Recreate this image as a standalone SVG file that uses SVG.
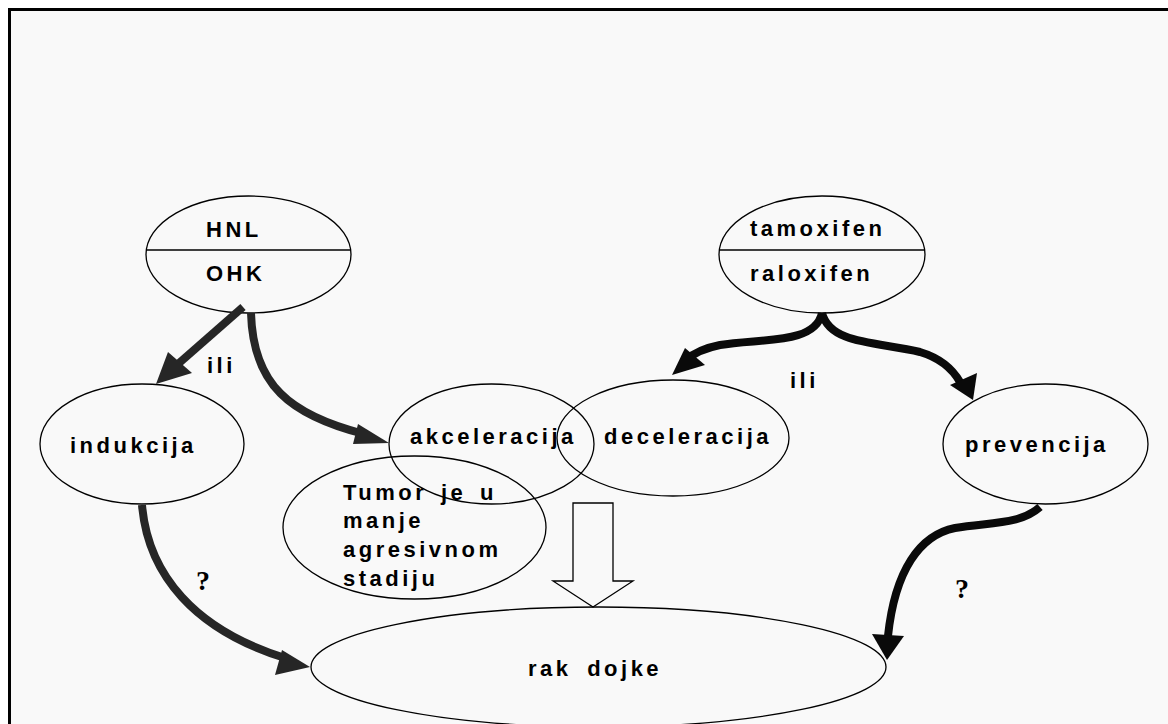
<svg xmlns="http://www.w3.org/2000/svg" width="1168" height="724" viewBox="0 0 1168 724">
<style>
.n{fill:none;stroke:#000;stroke-width:1.3}
.t{font-family:"Liberation Sans",Arial,sans-serif;font-weight:bold;font-size:22px;letter-spacing:3.5px;word-spacing:4px;fill:#000}
.q{font-family:"Liberation Serif","Times New Roman",serif;font-weight:bold;font-size:28px;fill:#000}
.c1{fill:none;stroke:#262626;stroke-width:8}
.c2{fill:none;stroke:#0a0a0a;stroke-width:8}
.h1{fill:#262626}
.h2{fill:#0a0a0a}
</style>
<rect x="0" y="0" width="1168" height="724" fill="#fff"/>
<rect x="9.5" y="9.5" width="1200" height="760" fill="#f9f9f9" stroke="#000" stroke-width="3"/>

<g id="hnl">
<ellipse class="n" cx="248.5" cy="254.5" rx="102.5" ry="58.5"/>
<line class="n" x1="146" y1="250" x2="351" y2="250"/>
<text class="t" x="206" y="237">HNL</text>
<text class="t" x="206" y="281">OHK</text>
</g>
<g id="tamoxifen">
<ellipse class="n" cx="822" cy="254.5" rx="103" ry="58.5"/>
<line class="n" x1="719" y1="250" x2="925" y2="250"/>
<text class="t" x="750" y="236">tamoxifen</text>
<text class="t" x="750" y="281">raloxifen</text>
</g>
<g id="indukcija">
<ellipse class="n" cx="142" cy="444" rx="102" ry="60"/>
<text class="t" x="70" y="453">indukcija</text>
</g>
<g id="akceleracija">
<ellipse class="n" cx="491.5" cy="444" rx="102.5" ry="60"/>
<text class="t" x="410" y="444">akceleracija</text>
</g>
<g id="deceleracija">
<ellipse class="n" cx="673" cy="438" rx="116" ry="58"/>
<text class="t" x="604" y="444">deceleracija</text>
</g>
<g id="prevencija">
<ellipse class="n" cx="1045.5" cy="444" rx="102.5" ry="60"/>
<text class="t" x="965" y="452">prevencija</text>
</g>
<g id="tumor">
<ellipse class="n" cx="414.5" cy="527.5" rx="131.5" ry="71.5"/>
<text class="t" x="343" y="500">Tumor je u</text>
<text class="t" x="343" y="528">manje</text>
<text class="t" x="343" y="557">agresivnom</text>
<text class="t" x="343" y="586">stadiju</text>
</g>
<g id="rak">
<ellipse class="n" cx="598.5" cy="667" rx="287.5" ry="60"/>
<text class="t" x="528" y="676" style="word-spacing:6px">rak dojke</text>
</g>

<g id="connectors">
<path class="c1" d="M243 307 L178 364"/>
<polygon class="h1" points="156,384 192,373 168,352"/>
<path class="c1" d="M251 313 C253 385 290 415 364 434"/>
<polygon class="h1" points="389,443 358,424 353,444"/>
<path class="c2" d="M822 313 C815 345 760 338 720 345 C705 348 695 352 686 360"/>
<polygon class="h2" points="672,375 705,365 685,348"/>
<path class="c2" d="M822 313 C830 345 880 342 920 352 C940 358 952 368 960 382"/>
<polygon class="h2" points="973,400 977,373 950,385"/>
<path class="c1" d="M142 505 C148 575 195 630 285 658"/>
<polygon class="h1" points="310,667 282,650 275,675"/>
<path class="c2" d="M1040 507 C1020 525 990 522 955 528 C920 535 895 570 888 636"/>
<polygon class="h2" points="887,660 872,634 904,636"/>
<polygon points="573,503 613,503 613,581 633,581 593,607 553,581 573,581" fill="#f9f9f9" stroke="#000" stroke-width="1.3"/>
<text class="t" x="207" y="373">ili</text>
<text class="t" x="790" y="388">ili</text>
<text class="q" x="196" y="590">?</text>
<text class="q" x="955" y="598">?</text>
</g>
</svg>
